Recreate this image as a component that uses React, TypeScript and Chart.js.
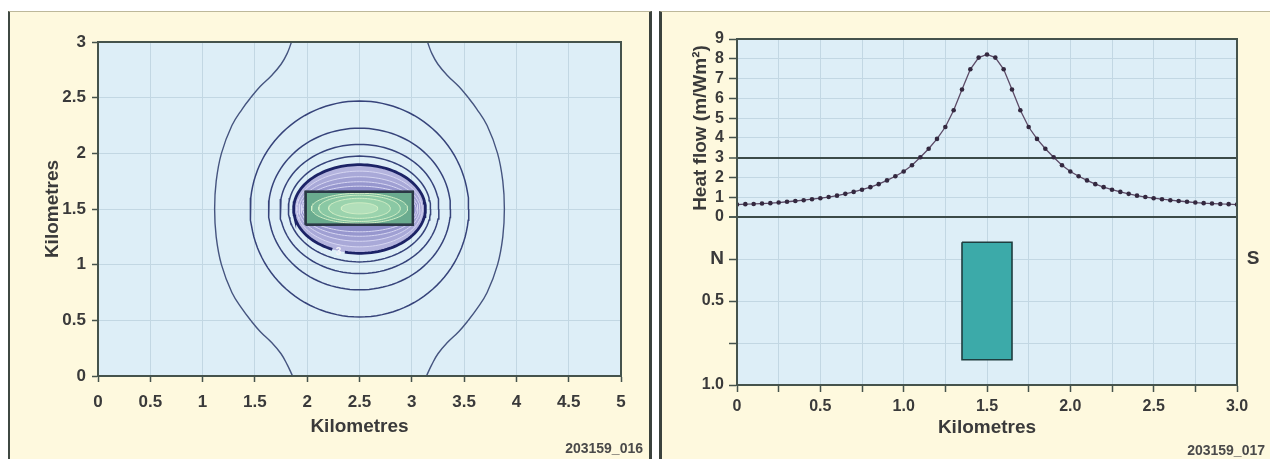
import React, { useEffect, useRef } from 'react';
import { Chart, registerables } from 'chart.js';

Chart.register(...registerables);

// ---------- colours & fonts ----------
const CREAM = '#fef9de';
const PLOT_BG = '#ddeef7';
const GRID = '#c2d7e3';
const AXIS = '#45534c';
const TEXT = '#3a3a3a';
const NARROW = "'Liberation Sans Narrow', 'Arial Narrow', 'Liberation Sans', sans-serif";
const SANS = "'Liberation Sans', Arial, sans-serif";

// ---------- left panel: plan-view contour map (km) ----------
const mapXRange = [0, 5];
const mapYRange = [0, 3];
const edgeCurveY = [3.0, 2.9, 2.8, 2.7, 2.6, 2.5, 2.4, 2.25, 2.0, 1.75, 1.5, 1.25, 1.0, 0.75, 0.6, 0.5, 0.4, 0.3, 0.2, 0.1, 0.0];
const westCurveX = [1.85, 1.81, 1.75, 1.66, 1.55, 1.46, 1.38, 1.28, 1.18, 1.13, 1.115, 1.13, 1.18, 1.28, 1.38, 1.46, 1.55, 1.66, 1.75, 1.81, 1.86];
const eastCurveX = [3.15, 3.19, 3.25, 3.34, 3.45, 3.54, 3.62, 3.72, 3.82, 3.87, 3.885, 3.87, 3.82, 3.72, 3.62, 3.54, 3.45, 3.34, 3.25, 3.19, 3.14];
const anomalyCentre = [2.5, 1.5];
const ringHalfWidth = [1.045, 0.87, 0.76, 0.68];
const ringHalfHeight = [0.97, 0.726, 0.58, 0.475];
const labelledRing = { halfWidth: 0.63, halfHeight: 0.398, label: '3', gapX: [2.24, 2.36] };
const innerHalfWidth = [0.6, 0.578, 0.558, 0.542];
const innerHalfHeight = [0.34, 0.29, 0.245, 0.205];
const innerFill = ['#a9a9d8', '#a0a0d3', '#9797ce', '#8e8ec9'];
const bodyPlanX = [1.985, 3.01];
const bodyPlanY = [1.358, 1.655];
const coreCentreY = 1.506;
const coreHalfWidth = [0.46, 0.39, 0.295, 0.175];
const coreHalfHeight = [0.135, 0.118, 0.09, 0.05];
const coreFill = ['#7cbc9c', '#8ac8a4', '#9bd3ad', '#b2dfba'];

// ---------- right panel: N-S heat-flow profile ----------
const profileKm = [
  0, 0.05, 0.1, 0.15, 0.2, 0.25, 0.3, 0.35, 0.4, 0.45, 0.5, 0.55, 0.6, 0.65, 0.7, 0.75, 0.8, 0.85, 0.9, 0.95,
  1.0, 1.05, 1.1, 1.15, 1.2, 1.25, 1.3, 1.35, 1.4, 1.45, 1.5, 1.55, 1.6, 1.65, 1.7, 1.75, 1.8, 1.85, 1.9, 1.95,
  2.0, 2.05, 2.1, 2.15, 2.2, 2.25, 2.3, 2.35, 2.4, 2.45, 2.5, 2.55, 2.6, 2.65, 2.7, 2.75, 2.8, 2.85, 2.9, 2.95, 3.0,
];
const heatFlow = [
  0.63, 0.65, 0.66, 0.68, 0.70, 0.73, 0.77, 0.81, 0.85, 0.90, 0.95, 1.01, 1.08, 1.17, 1.27, 1.38, 1.51, 1.66, 1.85, 2.06,
  2.30, 2.62, 3.02, 3.45, 3.95, 4.55, 5.40, 6.45, 7.47, 8.06, 8.22, 8.06, 7.47, 6.45, 5.40, 4.55, 3.95, 3.45, 3.02, 2.62,
  2.30, 2.06, 1.85, 1.66, 1.51, 1.38, 1.27, 1.17, 1.08, 1.01, 0.95, 0.90, 0.85, 0.81, 0.77, 0.73, 0.70, 0.68, 0.66, 0.65, 0.63,
];
const heatTicks = [0, 1, 2, 3, 4, 5, 6, 7, 8, 9];
const heatMarkers = [0, 3];
const depthTicks = [0, 0.25, 0.5, 0.75, 1.0];
const depthTickLabels = ['', 'N', '0.5', '', '1.0'];
const profileTicks = [0, 0.25, 0.5, 0.75, 1.0, 1.25, 1.5, 1.75, 2.0, 2.25, 2.5, 2.75, 3.0];
const profileTickLabels = ['0', '', '0.5', '', '1.0', '', '1.5', '', '2.0', '', '2.5', '', '3.0'];
const bodySectionKm = [1.35, 1.65];
const bodySectionDepth = [0.15, 0.85];

// ---------- helpers ----------
function arc(cx: number, cy: number, rx: number, ry: number, from = 0, to = Math.PI * 2) {
  const pts: { x: number; y: number }[] = [];
  const n = 120;
  for (let k = 0; k <= n; k++) {
    const t = from + (k / n) * (to - from);
    pts.push({ x: cx + rx * Math.cos(t), y: cy + ry * Math.sin(t) });
  }
  return pts;
}
function box(xs: number[], ys: number[]) {
  return [
    { x: xs[0], y: ys[0] },
    { x: xs[1], y: ys[0] },
    { x: xs[1], y: ys[1] },
    { x: xs[0], y: ys[1] },
    { x: xs[0], y: ys[0] },
  ];
}
function fixedTicks(values: number[]) {
  return (s: any) => {
    s.ticks = values.map((value) => ({ value }));
  };
}
function labelFor(values: number[], labels: string[]) {
  return (v: any) => {
    const i = values.indexOf(Number(v));
    return i >= 0 ? labels[i] : '';
  };
}

const plotFrame = {
  id: 'plotFrame',
  beforeDraw(chart: any) {
    const { ctx, chartArea: a } = chart;
    ctx.save();
    ctx.fillStyle = PLOT_BG;
    ctx.fillRect(a.left, a.top, a.right - a.left, a.bottom - a.top);
    ctx.restore();
  },
  afterDraw(chart: any) {
    const { ctx, chartArea: a } = chart;
    ctx.save();
    ctx.strokeStyle = AXIS;
    ctx.lineWidth = 2;
    ctx.strokeRect(a.left, a.top, a.right - a.left, a.bottom - a.top);
    ctx.restore();
  },
};

function lineSet(data: any[], color: string, width: number, extra: any = {}) {
  return {
    data,
    showLine: true,
    borderColor: color,
    borderWidth: width,
    pointRadius: 0,
    tension: 0,
    fill: false,
    ...extra,
  };
}

const tickFont = (size: number) => ({ family: NARROW, size, weight: 'bold' });
const titleFont = { family: SANS, size: 19, weight: 'bold' };

function MapChart() {
  const ref = useRef<HTMLCanvasElement | null>(null);
  useEffect(() => {
    const [cx, cy] = anomalyCentre;
    const lr = labelledRing;
    // angles (measured in data space) of the gap where the contour value is written
    const gapStart = Math.PI * 2 - Math.acos((lr.gapX[0] - cx) / lr.halfWidth);
    const gapEnd = Math.PI * 2 - Math.acos((lr.gapX[1] - cx) / lr.halfWidth);

    const layers: any[] = [];
    layers.push(lineSet(westCurveX.map((x, i) => ({ x, y: edgeCurveY[i] })), '#45547f', 1.4, { tension: 0.4 }));
    layers.push(lineSet(eastCurveX.map((x, i) => ({ x, y: edgeCurveY[i] })), '#45547f', 1.4, { tension: 0.4 }));
    ringHalfWidth.forEach((rx, i) => {
      layers.push(lineSet(arc(cx, cy, rx, ringHalfHeight[i]), '#36437a', 1.5));
    });
    layers.push(lineSet(arc(cx, cy, lr.halfWidth, lr.halfHeight), 'rgba(0,0,0,0)', 0, { fill: 'shape', backgroundColor: '#b4b4de' }));
    innerHalfWidth.forEach((rx, i) => {
      layers.push(lineSet(arc(cx, cy, rx, innerHalfHeight[i]), '#d6d6f2', 1, { fill: 'shape', backgroundColor: innerFill[i] }));
    });
    layers.push(lineSet(arc(cx, cy, lr.halfWidth, lr.halfHeight, gapEnd - Math.PI * 2, gapStart), '#1c2366', 2.8));
    layers.push(lineSet(box(bodyPlanX, bodyPlanY), '#2e3b4a', 2, { fill: 'shape', backgroundColor: '#6aab8f' }));
    coreHalfWidth.forEach((rx, i) => {
      layers.push(lineSet(arc(cx, coreCentreY, rx, coreHalfHeight[i]), '#d2efc6', 1, { fill: 'shape', backgroundColor: coreFill[i] }));
    });
    layers.push(lineSet(box(bodyPlanX, bodyPlanY), '#2b3846', 2.4));
    const n = layers.length;
    layers.forEach((d, i) => (d.order = n - i));

    const contourLabel = {
      id: 'contourLabel',
      afterDatasetsDraw(chart: any) {
        const { ctx, scales } = chart;
        const x = scales.x.getPixelForValue((lr.gapX[0] + lr.gapX[1]) / 2);
        const y = scales.y.getPixelForValue(cy - lr.halfHeight * 0.985);
        ctx.save();
        ctx.fillStyle = '#f4f4fb';
        ctx.font = `bold 10px ${SANS}`;
        ctx.textAlign = 'center';
        ctx.textBaseline = 'middle';
        ctx.fillText(lr.label, x, y);
        ctx.restore();
      },
    };

    const chart = new Chart(ref.current as HTMLCanvasElement, {
      type: 'scatter',
      data: { datasets: layers },
      options: {
        animation: false,
        responsive: false,
        events: [],
        layout: { padding: { top: 30, right: 30, left: 0, bottom: 0 } },
        plugins: { legend: { display: false }, tooltip: { enabled: false } },
        scales: {
          x: {
            type: 'linear',
            min: mapXRange[0],
            max: mapXRange[1],
            afterFit: (s: any) => { s.height = 83; },
            ticks: {
              stepSize: 0.5,
              color: TEXT,
              padding: 10,
              maxRotation: 0,
              autoSkip: false,
              font: tickFont(17),
              callback: (v: any) => String(v),
            },
            grid: { color: GRID, lineWidth: 1, tickLength: 6, tickColor: AXIS, tickWidth: 1.5 },
            border: { color: AXIS, width: 2 },
            title: { display: true, text: 'Kilometres', color: TEXT, font: titleFont, padding: { top: 0, bottom: 21 } },
          },
          y: {
            type: 'linear',
            min: mapYRange[0],
            max: mapYRange[1],
            afterFit: (s: any) => { s.width = 88; },
            ticks: {
              stepSize: 0.5,
              color: TEXT,
              padding: 6,
              font: tickFont(17),
              callback: (v: any) => String(v),
            },
            grid: { color: GRID, lineWidth: 1, tickLength: 6, tickColor: AXIS, tickWidth: 1.5 },
            border: { color: AXIS, width: 2 },
            title: { display: true, text: 'Kilometres', color: TEXT, font: titleFont, padding: { top: 31, bottom: 0 } },
          },
        },
      } as any,
      plugins: [plotFrame, contourLabel],
    });
    return () => chart.destroy();
  }, []);
  return <canvas ref={ref} width={641} height={447} style={{ position: 'absolute', left: 10, top: 12 }} />;
}

function ProfileChart() {
  const ref = useRef<HTMLCanvasElement | null>(null);
  useEffect(() => {
    const sLabel = {
      id: 'southLabel',
      afterDraw(chart: any) {
        const depth = chart.scales.yDepth;
        const y = depth.getPixelForValue(depthTicks[1]);
        const { ctx, chartArea } = chart;
        ctx.save();
        ctx.fillStyle = TEXT;
        ctx.font = `bold 19px ${SANS}`;
        ctx.textAlign = 'center';
        ctx.textBaseline = 'middle';
        ctx.fillText('S', chartArea.right + 16, y);
        ctx.restore();
      },
    };
    const chart = new Chart(ref.current as HTMLCanvasElement, {
      type: 'scatter',
      data: {
        datasets: [
          {
            data: profileKm.map((x, i) => ({ x, y: heatFlow[i] })),
            yAxisID: 'yHeat',
            showLine: true,
            borderColor: '#5b4a66',
            borderWidth: 1.3,
            pointRadius: 2.3,
            pointBackgroundColor: '#33283f',
            pointBorderWidth: 0,
            tension: 0,
            order: 0,
          },
          {
            data: box(bodySectionKm, bodySectionDepth),
            yAxisID: 'yDepth',
            showLine: true,
            borderColor: '#1f3d3f',
            borderWidth: 1.6,
            backgroundColor: '#3caaa9',
            fill: 'shape',
            pointRadius: 0,
            tension: 0,
            order: 1,
          },
        ],
      },
      options: {
        animation: false,
        responsive: false,
        events: [],
        layout: { padding: { top: 27, right: 33, left: 0, bottom: 0 } },
        plugins: { legend: { display: false }, tooltip: { enabled: false } },
        scales: {
          x: {
            type: 'linear',
            min: profileTicks[0],
            max: profileTicks[profileTicks.length - 1],
            afterFit: (s: any) => { s.height = 74; },
            afterBuildTicks: fixedTicks(profileTicks),
            ticks: {
              color: TEXT,
              padding: 5,
              maxRotation: 0,
              autoSkip: false,
              font: tickFont(16),
              callback: labelFor(profileTicks, profileTickLabels),
            },
            grid: { color: GRID, lineWidth: 1, tickLength: 7, tickColor: AXIS, tickWidth: 1.5 },
            border: { color: AXIS, width: 2 },
            title: { display: true, text: 'Kilometres', color: TEXT, font: titleFont, padding: { top: 0, bottom: 20 } },
          },
          yHeat: {
            type: 'linear',
            position: 'left',
            stack: 'profile',
            stackWeight: 178,
            weight: 2,
            min: heatTicks[0],
            max: heatTicks[heatTicks.length - 1],
            afterFit: (s: any) => { s.width = 75; },
            afterBuildTicks: fixedTicks(heatTicks),
            ticks: {
              color: TEXT,
              padding: 5,
              autoSkip: false,
              font: tickFont(16),
              callback: (v: any) => String(v),
            },
            grid: {
              color: (c: any) => (c.tick && heatMarkers.includes(c.tick.value) ? '#3b4a48' : GRID),
              lineWidth: (c: any) => (c.tick && heatMarkers.includes(c.tick.value) ? 2 : 1),
              tickLength: 8,
              tickColor: AXIS,
              tickWidth: 1.5,
            },
            border: { color: AXIS, width: 2 },
            title: {
              display: true,
              text: 'Heat flow (m/Wm²)',
              color: TEXT,
              font: titleFont,
              padding: { top: 27, bottom: 0 },
            },
          },
          yDepth: {
            type: 'linear',
            position: 'left',
            stack: 'profile',
            stackWeight: 168,
            weight: 1,
            reverse: true,
            min: depthTicks[0],
            max: depthTicks[depthTicks.length - 1],
            afterFit: (s: any) => { s.width = 75; },
            afterBuildTicks: fixedTicks(depthTicks),
            ticks: {
              color: TEXT,
              padding: 5,
              autoSkip: false,
              font: (c: any) =>
                c.tick && c.tick.value === depthTicks[1] ? { family: SANS, size: 19, weight: 'bold' } : tickFont(16),
              callback: labelFor(depthTicks, depthTickLabels),
            },
            grid: {
              color: (c: any) => (c.tick && c.tick.value === 0 ? '#3b4a48' : GRID),
              lineWidth: (c: any) => (c.tick && c.tick.value === 0 ? 2 : 1),
              tickLength: 8,
              tickColor: AXIS,
              tickWidth: 1.5,
            },
            border: { color: AXIS, width: 2 },
          },
        },
      } as any,
      plugins: [plotFrame, sLabel],
    });
    return () => chart.destroy();
  }, []);
  return <canvas ref={ref} width={608} height={447} style={{ position: 'absolute', left: 662, top: 12 }} />;
}

export default function App() {
  const foot: React.CSSProperties = {
    position: 'absolute',
    font: `bold 14px ${SANS}`,
    color: '#4a4a4a',
    textAlign: 'right',
    width: 120,
  };
  return (
    <div style={{ position: 'fixed', left: 0, top: 0, width: 1270, height: 459, background: '#ffffff', overflow: 'hidden' }}>
      <div
        style={{
          position: 'absolute',
          left: 8,
          top: 11,
          width: 644,
          height: 448,
          background: CREAM,
          borderTop: '1px solid #bdb89a',
          borderLeft: '2px solid #3f4842',
          borderRight: '3px solid #3b423d',
          boxSizing: 'border-box',
        }}
      />
      <div
        style={{
          position: 'absolute',
          left: 659,
          top: 11,
          width: 611,
          height: 448,
          background: CREAM,
          borderTop: '1px solid #bdb89a',
          borderLeft: '3px solid #3b423d',
          boxSizing: 'border-box',
        }}
      />
      <MapChart />
      <ProfileChart />
      <div style={{ ...foot, left: 523, top: 440 }}>203159_016</div>
      <div style={{ ...foot, left: 1145, top: 442 }}>203159_017</div>
    </div>
  );
}
